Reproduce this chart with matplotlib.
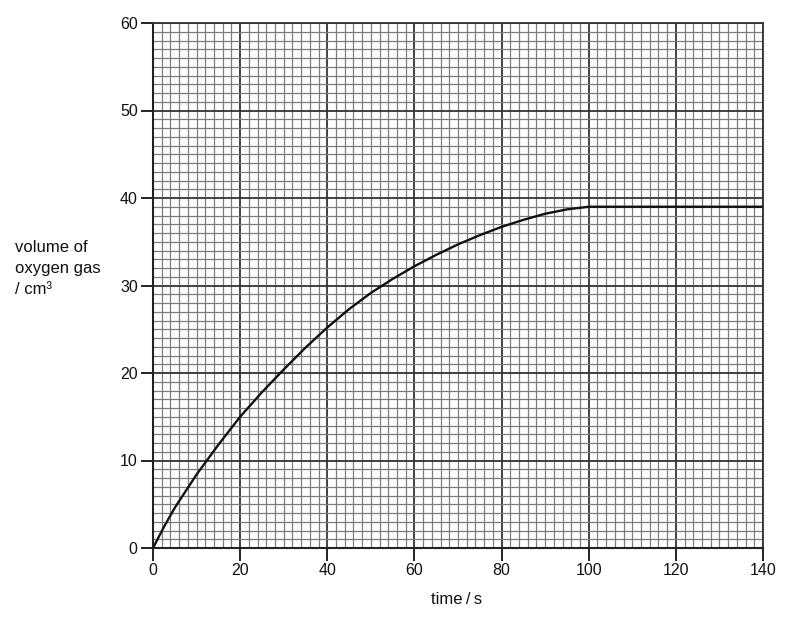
import matplotlib
matplotlib.use("Agg")
import matplotlib.pyplot as plt
from matplotlib.ticker import MultipleLocator

# volume of oxygen gas
time_s = [0, 2.5, 5, 10, 15, 20, 25, 30, 35, 40, 45, 50, 55, 60, 65, 70,
          75, 80, 85, 90, 95, 100, 140]
volume_cm3 = [0, 2.4, 4.6, 8.4, 11.8, 15.0, 17.8, 20.4, 22.9, 25.2, 27.3,
              29.15, 30.75, 32.2, 33.5, 34.7, 35.75, 36.7, 37.5, 38.2, 38.7,
              39.0, 39.0]

x_ticks = [0, 20, 40, 60, 80, 100, 120, 140]
y_ticks = [0, 10, 20, 30, 40, 50, 60]

plt.rcParams['font.family'] = ['Liberation Sans', 'DejaVu Sans']

fig = plt.figure(figsize=(7.95, 6.24), dpi=100)
ax = fig.add_axes([153 / 795, 76 / 624, 610 / 795, 525 / 624])

ax.set_xlim(0, 140)
ax.set_ylim(0, 60)
ax.set_xticks(x_ticks)
ax.set_yticks(y_ticks)
ax.xaxis.set_minor_locator(MultipleLocator(2))
ax.yaxis.set_minor_locator(MultipleLocator(1))

# graph paper
ax.grid(which='minor', color='#7c7c7c', linewidth=0.9)
ax.grid(which='major', color='#333333', linewidth=1.3)
ax.set_axisbelow(True)

ax.plot(time_s, volume_cm3, color='#111111', linewidth=1.7,
        solid_joinstyle='round', zorder=3)

for side in ['top', 'right']:
    ax.spines[side].set_color('#333333')
    ax.spines[side].set_linewidth(1.3)
for side in ['left', 'bottom']:
    ax.spines[side].set_color('#222222')
    ax.spines[side].set_linewidth(1.5)

ax.tick_params(which='major', direction='out', length=9, width=1.4,
               color='#222222', labelsize=11.5, labelcolor='#111111', pad=2)
ax.tick_params(which='minor', length=0)

fig.text(15 / 795, 1 - 268 / 624, "volume of\noxygen gas\n/ cm³",
         ha='left', va='center', fontsize=12, linespacing=1.5, color='#111111')
fig.text(457 / 795, 1 - 600 / 624, "time\u2009/\u2009s", ha='center', va='center',
         fontsize=12, color='#111111')

fig.savefig("out.png", dpi=100)
